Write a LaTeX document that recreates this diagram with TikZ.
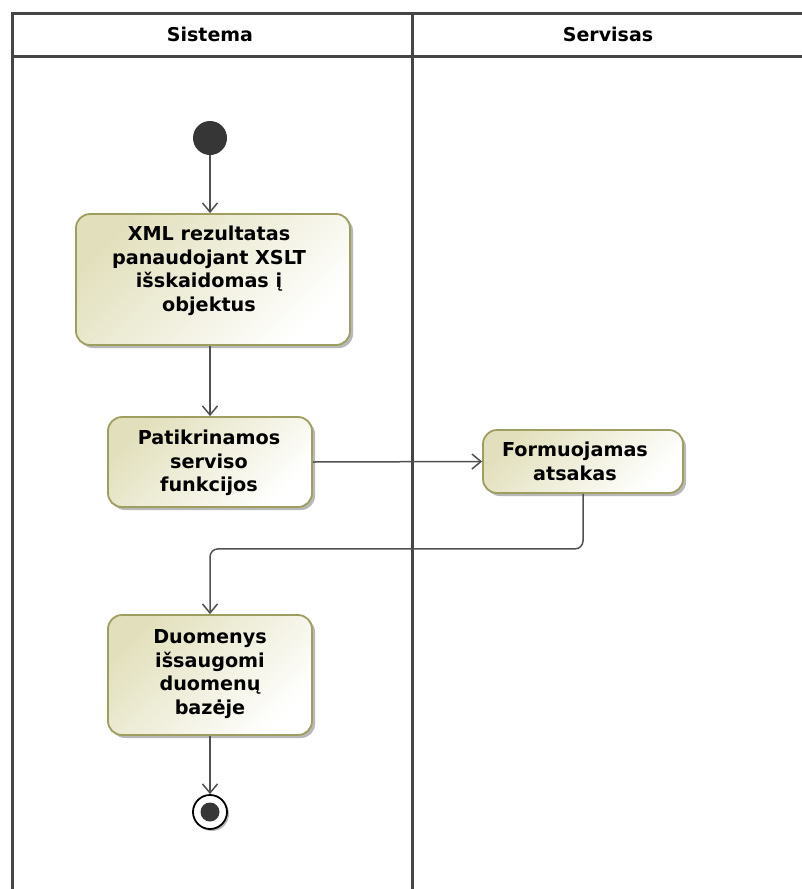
\documentclass[tikz,border=0pt]{standalone}
\usepackage{fontspec}
\setmainfont{DejaVu Sans}
\usetikzlibrary{arrows.meta,shadows}
\definecolor{lanecol}{HTML}{454545}
\definecolor{actfill}{HTML}{E2E0BC}
\definecolor{actborder}{HTML}{9E9E60}
\definecolor{flowcol}{HTML}{505050}
\definecolor{dotcol}{HTML}{363636}
\begin{document}
\begin{tikzpicture}[x=1pt,y=-1pt,
  lanel/.style={draw=lanecol,line width=3pt},
  act/.style={draw=actborder,line width=1.8pt,rounded corners=14pt,
    left color=actfill,right color=white,shading angle=45,
    drop shadow={shadow xshift=3pt,shadow yshift=-3pt,fill=black!55,opacity=.5}},
  acttext/.style={align=center,inner sep=0pt,font=\bfseries\fontsize{19.2}{23.5}\selectfont},
  hdr/.style={inner sep=0pt,font=\bfseries\fontsize{19}{22}\selectfont},
  flow/.style={draw=flowcol,line width=1.5pt,-{Straight Barb[length=9pt,width=15pt,line width=1.5pt]}},
]
\useasboundingbox (0,0) rectangle (802,889);
\clip (0,0) rectangle (802,889);
\fill[white] (0,0) rectangle (802,889);

% swimlanes
\draw[lanel] (12,900) -- (12,13) -- (810,13);
\draw[lanel] (12,56) -- (810,56);
\draw[lanel] (412,13) -- (412,900);
\node[hdr] (h1) at (210,34) {Sistema};
\node[hdr] (h2) at (608,34) {Servisas};

% start
\node[circle,fill=dotcol,minimum size=34pt,inner sep=0pt] (start) at (210,138) {};

% actions
\node[act,minimum width=274pt,minimum height=131pt] (a1) at (213,279.5) {};
\node[acttext] (t1) at (209,271) {XML rezultatas\\panaudojant XSLT\\išskaidomas į\\objektus};

\node[act,minimum width=204pt,minimum height=90pt] (a2) at (210,462) {};
\node[acttext] (t2) at (209,463) {Patikrinamos\\serviso\\funkcijos};

\node[act,minimum width=200pt,minimum height=63pt] (a3) at (583,461.5) {};
\node[acttext] (t3) at (575,461.5) {Formuojamas\\atsakas};

\node[act,minimum width=204pt,minimum height=120pt] (a4) at (210,675) {};
\node[acttext] (t4) at (210,674) {Duomenys\\išsaugomi\\duomenų\\bazėje};

% end
\node[circle,draw=black,line width=1.8pt,fill=white,minimum size=34pt,inner sep=0pt,
  drop shadow={shadow xshift=2pt,shadow yshift=-2pt,fill=black!55,opacity=.5}] (end) at (210,812) {};
\node[circle,fill=dotcol,minimum size=19pt,inner sep=0pt] (endin) at (end.center) {};

% flows
\draw[flow] (start.south) -- (start.south |- a1.north);
\draw[flow] (a2.north |- a1.south) -- (a2.north);
\draw[flow] (a2.east) -- (a3.west);
\draw[flow,rounded corners=8pt] (a3.south) -- ++(0,55) -| (a4.north);
\draw[flow] (a4.south) -- (end.north);
\end{tikzpicture}
\end{document}
